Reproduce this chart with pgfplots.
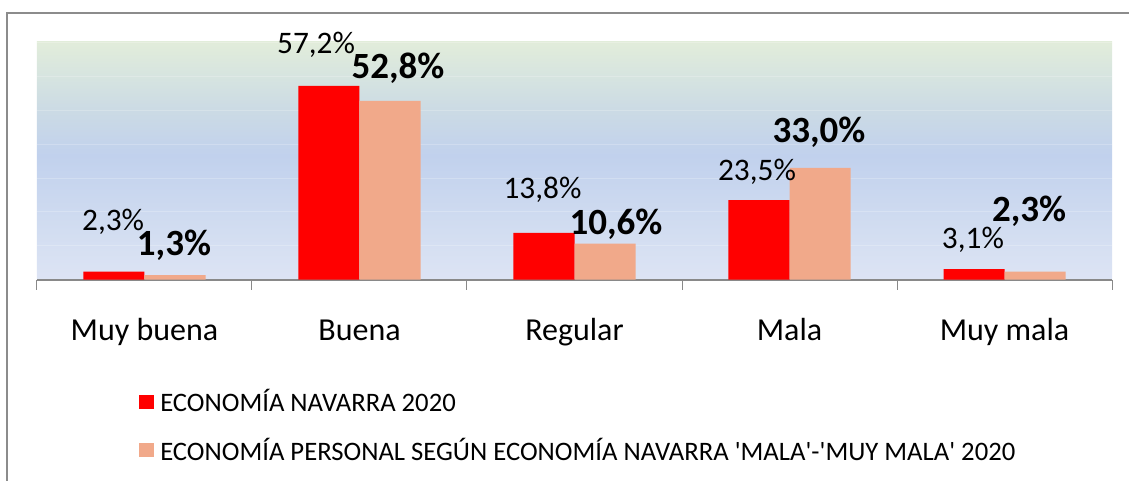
\documentclass[border=0pt]{standalone}
\usepackage{pgfplots}
\pgfplotsset{compat=1.18}
\usepackage{fontspec}
\setmainfont{Carlito}
\definecolor{cred}{RGB}{255,0,0}
\definecolor{csal}{RGB}{241,169,138}
\definecolor{axisgray}{RGB}{137,137,137}
\definecolor{framegray}{RGB}{140,140,140}
\definecolor{gtop}{RGB}{226,237,218}
\definecolor{g85}{RGB}{214,228,224}
\definecolor{g72}{RGB}{204,219,228}
\definecolor{gblue}{RGB}{193,209,237}
\definecolor{g25}{RGB}{207,219,240}
\definecolor{gbot}{RGB}{221,228,244}
\pgfdeclareverticalshading{plotbg}{100bp}{color(0bp)=(gbot); color(25bp)=(gbot); color(38bp)=(g25); color(51bp)=(gblue); color(61bp)=(g72); color(67.5bp)=(g85); color(75bp)=(gtop); color(100bp)=(gtop)}
\begin{document}
\begin{tikzpicture}
\useasboundingbox (0,0) rectangle (846.75pt,360pt);
\begin{axis}[
  at={(27.75pt,150.375pt)}, anchor=south west,
  scale only axis, width=806.25pt, height=178.875pt,
  xmin=-0.5, xmax=4.5, ymin=0, ymax=70.5,
  ybar=0pt, bar width=45.75pt,
  axis x line*=bottom, axis y line*=left,
  y axis line style={draw=none},
  x axis line style={draw=axisgray, line width=1.5pt},
  xtick={0,1,2,3,4},
  xticklabels={Muy buena, Buena, Regular, Mala, Muy mala},
  major tick length=0pt,
  xtick style={draw=axisgray, line width=0.75pt},
  x tick label style={font=\fontsize{24}{28}\selectfont, anchor=base, yshift=-45.4pt},
  extra x ticks={-0.5,0.5,1.5,2.5,3.5,4.5},
  extra x tick labels={},
  extra x tick style={tick align=outside, major tick length=7.5pt},
  ytick={10,20,30,40,50,60,70}, yticklabels={},
  ytick style={draw=none},
  ymajorgrids, y grid style={white, opacity=0.22, line width=0.75pt},
  axis background/.style={shading=plotbg},
  clip=false,
  legend cell align=left,
  legend style={at={(axis description cs:0.0949,-0.46)}, anchor=north west, draw=none, fill=none,
    font=\fontsize{20}{24}\selectfont, row sep=18pt, inner sep=0pt,
    nodes={inner xsep=4.5pt, inner ysep=0pt}},
  legend image code/.code={\fill[#1] (0pt,-5.25pt) rectangle (11.25pt,5.25pt);},
]
\addplot[fill=cred, draw=none] coordinates {(0,2.3) (1,57.2) (2,13.8) (3,23.5) (4,3.1)};
\addlegendentry{ECONOMÍA NAVARRA 2020}
\addplot[fill=csal, draw=none] coordinates {(0,1.3) (1,52.8) (2,10.6) (3,33.0) (4,2.3)};
\addlegendentry{ECONOMÍA PERSONAL SEGÚN ECONOMÍA NAVARRA \textquotesingle MALA\textquotesingle-\textquotesingle MUY MALA\textquotesingle{} 2020}
% data labels
\begin{scope}[every node/.style={anchor=base, inner sep=0pt, font=\fontsize{23.5}{28}\selectfont}]
\node at (axis cs:-0.146,14.6) {2,3\%};
\node at (axis cs:0.798,66.66) {57,2\%};
\node at (axis cs:1.851,23.8) {13,8\%};
\node at (axis cs:2.849,29.41) {23,5\%};
\node at (axis cs:3.853,9.31) {3,1\%};
\end{scope}
\begin{scope}[every node/.style={anchor=base, inner sep=0pt, font=\fontsize{27.75}{32}\selectfont\bfseries}]
\node at (axis cs:0.137,7.24) {1,3\%};
\node at (axis cs:1.179,59.27) {52,8\%};
\node at (axis cs:2.193,13.45) {10,6\%};
\node at (axis cs:3.137,40.64) {33,0\%};
\node at (axis cs:4.114,17.0) {2,3\%};
\end{scope}
\end{axis}
\draw[framegray, line width=1.5pt] (5.25pt,-20pt) rectangle (880pt,350.25pt);
\end{tikzpicture}
\end{document}
